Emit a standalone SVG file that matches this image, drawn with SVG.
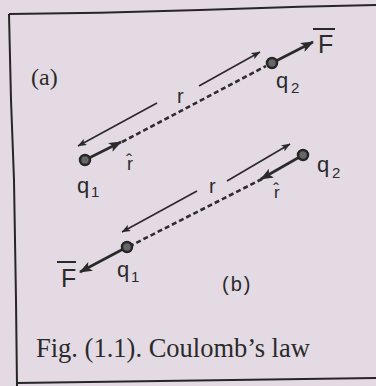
<svg xmlns="http://www.w3.org/2000/svg" width="376" height="386" viewBox="0 0 376 386">
<defs>
<style>
.frame{fill:none;stroke:#262626;stroke-width:2}
.thick{fill:none;stroke:#2a2a2a;stroke-width:2.6}
.thin{fill:none;stroke:#2a2a2a;stroke-width:1.6}
.dash{fill:none;stroke:#2e2e2e;stroke-width:2.6;stroke-dasharray:5 3}
.bar{stroke:#2a2a2a;stroke-width:2}
.dot{fill:#666;stroke:#252525;stroke-width:2.5}
.sans{font-family:"Liberation Sans",Arial,sans-serif;fill:#2a2a2a}
.serif{font-family:"Liberation Serif","Times New Roman",serif;fill:#2a2a2a}
</style>
<marker id="ah" markerUnits="userSpaceOnUse" markerWidth="13" markerHeight="10" refX="12" refY="5" orient="auto">
<path d="M0,0 L13,5 L0,10 L3,5 Z" fill="#2a2a2a"/>
</marker>
<marker id="as" markerUnits="userSpaceOnUse" markerWidth="9" markerHeight="7" refX="8.5" refY="3.5" orient="auto">
<path d="M0,0 L9,3.5 L0,7 L2,3.5 Z" fill="#2a2a2a"/>
</marker>
</defs>
<rect x="0" y="0" width="376" height="386" fill="#e4dae4"/>
<g id="frame">
<path class="frame" d="M9,14 L100,12.7 L200,10 L300,6.7 L376,5"/>
<path class="frame" d="M9,14 L11,100 L14,180 L16,300 L17,386"/>
<path class="frame" d="M17,383 L376,378"/>
</g>
<g id="connectors">
<line class="dash" x1="122" y1="142" x2="266" y2="66"/>
<line class="thick" x1="85" y1="160" x2="121" y2="142" marker-end="url(#ah)"/>
<line class="thick" x1="272" y1="63" x2="313" y2="42" marker-end="url(#ah)"/>
<line class="thin" x1="199" y1="86" x2="260" y2="52" marker-end="url(#as)"/>
<line class="thin" x1="157" y1="103" x2="78" y2="146" marker-end="url(#as)"/>
<line class="dash" x1="262" y1="179" x2="132" y2="245"/>
<line class="thick" x1="303" y1="155" x2="261" y2="179" marker-end="url(#ah)"/>
<line class="thick" x1="127" y1="247" x2="80" y2="272" marker-end="url(#ah)"/>
<line class="thin" x1="227" y1="181" x2="290" y2="144" marker-end="url(#as)"/>
<line class="thin" x1="197" y1="191" x2="122" y2="232" marker-end="url(#as)"/>
</g>
<g id="label-a"><text class="serif" x="31" y="85" font-size="24">(a)</text></g>
<g id="q1-a">
<circle class="dot" cx="85" cy="160" r="5"/>
<text class="sans" x="77" y="193" font-size="22">q</text>
<text class="sans" x="91" y="197" font-size="15">1</text>
</g>
<g id="q2-a">
<circle class="dot" cx="272" cy="63" r="5"/>
<text class="sans" x="276" y="88" font-size="22">q</text>
<text class="sans" x="291" y="93" font-size="15">2</text>
</g>
<g id="F-a">
<line class="bar" x1="313" y1="29" x2="335" y2="29"/>
<text class="sans" x="318" y="53" font-size="25">F</text>
</g>
<g id="r-a"><text class="sans" x="177" y="103" font-size="20">r</text></g>
<g id="rhat-a"><text class="sans" x="127" y="170" font-size="18">r̂</text></g>
<g id="q2-b">
<circle class="dot" cx="303" cy="155" r="5"/>
<text class="sans" x="317" y="172" font-size="22">q</text>
<text class="sans" x="332" y="178" font-size="15">2</text>
</g>
<g id="q1-b">
<circle class="dot" cx="127" cy="247" r="5"/>
<text class="sans" x="117" y="277" font-size="22">q</text>
<text class="sans" x="131" y="282" font-size="15">1</text>
</g>
<g id="F-b">
<line class="bar" x1="57" y1="262" x2="76" y2="262"/>
<text class="sans" x="61" y="287" font-size="25">F</text>
</g>
<g id="r-b"><text class="sans" x="209" y="193" font-size="20">r</text></g>
<g id="rhat-b"><text class="sans" x="274" y="198" font-size="17">r̂</text></g>
<g id="label-b"><text class="sans" x="222" y="291" font-size="20" letter-spacing="2">(b)</text></g>
<g id="caption"><text class="serif" x="36" y="357" font-size="26.5">Fig. (1.1). Coulomb’s law</text></g>
</svg>
